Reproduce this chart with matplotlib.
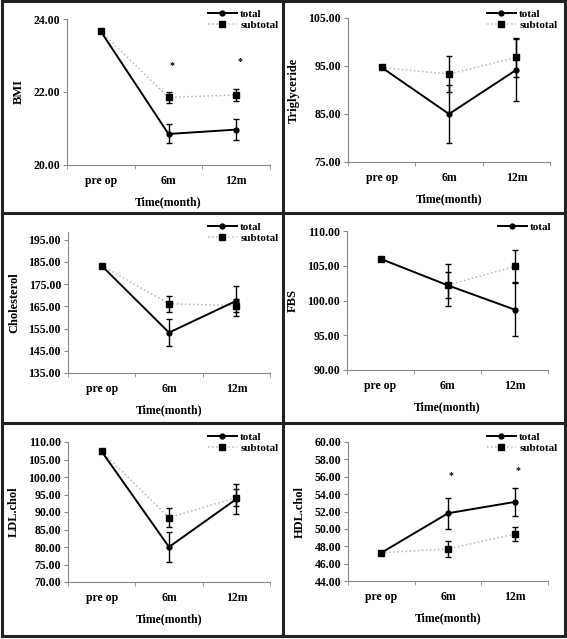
# six panel chart: metabolic measures pre op, 6m, 12m

import matplotlib.pyplot as plt
from matplotlib.lines import Line2D

plt.rcParams['font.family'] = ['Liberation Serif', 'DejaVu Serif']
plt.rcParams['font.weight'] = 'bold'
plt.rcParams['axes.labelweight'] = 'bold'

times = ['pre op', '6m', '12m']

bmi_total = [23.66, 20.85, 20.97]
bmi_total_err = [0, 0.26, 0.29]
bmi_sub = [23.66, 21.85, 21.92]
bmi_sub_err = [0, 0.15, 0.17]
bmi_star = [22.72, 22.84]

tg_total = [94.7, 85.0, 94.2]
tg_total_err = [0, 6.0, 6.4]
tg_sub = [94.7, 93.3, 96.8]
tg_sub_err = [0, 3.8, 4.0]

chol_total = [183.3, 153.2, 167.5]
chol_total_err = [0, 6.0, 6.9]
chol_sub = [183.3, 166.2, 165.3]
chol_sub_err = [0, 3.6, 2.9]

fbs_total = [106.0, 102.2, 98.7]
fbs_total_err = [0, 3.0, 3.8]
fbs_sub = [106.0, 102.2, 104.9]
fbs_sub_err = [0, 1.85, 2.3]

ldl_total = [107.3, 80.0, 93.7]
ldl_total_err = [0, 4.2, 4.3]
ldl_sub = [107.3, 88.4, 94.1]
ldl_sub_err = [0, 2.8, 2.4]

hdl_total = [47.25, 51.8, 53.1]
hdl_total_err = [0, 1.8, 1.65]
hdl_sub = [47.25, 47.7, 49.4]
hdl_sub_err = [0, 0.95, 0.85]
hdl_star = [56.1, 56.75]

W, H = 567, 639
fig = plt.figure(figsize=(W / 100, H / 100), dpi=100)

def box(l, t, r, b):
    return [l / W, 1 - b / H, (r - l) / W, (b - t) / H]

def panel(rect, name, total, terr, sub, serr, ylim, yticks,
          star=None, legend_xy=None, sub_legend=True):
    ax = fig.add_axes(box(*rect))
    x = list(range(len(times)))
    ax.errorbar(x, sub, yerr=serr, color='#b8b8b8', ls=':', lw=1.1,
                marker='s', ms=4, mfc='black', mec='black',
                ecolor='black', elinewidth=1, capsize=2.5,
                label='subtotal' if sub_legend else '_nolegend_', zorder=2)
    ax.errorbar(x, total, yerr=terr, color='black', ls='-', lw=1.4,
                marker='o', ms=3.5, mfc='black', mec='black',
                ecolor='black', elinewidth=1, capsize=2.5,
                label='total', zorder=3)
    if star:
        for i, s in zip([1, 2], star):
            ax.text(i + 0.05, s, '*', ha='center', va='center', fontsize=7)
    ax.set_xlim(-0.5, 2.5)
    ax.set_ylim(*ylim)
    ax.set_yticks(yticks)
    ax.set_yticklabels(['%.2f' % v for v in yticks], fontsize=8.5)
    ax.set_xticks(x)
    ax.set_xticklabels(times, fontsize=8.5)
    ax.set_xticks([-0.5, 0.5, 1.5, 2.5], minor=True)
    ax.tick_params(axis='x', which='major', length=0, pad=7)
    ax.tick_params(axis='x', which='minor', length=3, color='#888888')
    ax.tick_params(axis='y', length=3, color='#888888', pad=2)
    for s in ['top', 'right']:
        ax.spines[s].set_visible(False)
    for s in ['left', 'bottom']:
        ax.spines[s].set_color('#888888')
        ax.spines[s].set_linewidth(0.8)
    ax.set_xlabel('Time(month)', fontsize=8.5, labelpad=7)
    ax.set_ylabel(name, fontsize=9, labelpad=6)
    handles, labels = ax.get_legend_handles_labels()
    order = [labels.index('total')]
    if sub_legend:
        order.append(labels.index('subtotal'))
    lh = []
    for i in order:
        h = handles[i][0]
        lh.append(Line2D([], [], color=h.get_color(), ls=h.get_linestyle(),
                         lw=h.get_linewidth(), marker=h.get_marker(),
                         ms=h.get_markersize(), mfc='black', mec='black'))
    ax.legend(lh, [labels[i] for i in order], loc='upper left',
              bbox_to_anchor=(legend_xy[0] / W, 1 - legend_xy[1] / H),
              bbox_transform=fig.transFigure, frameon=False, fontsize=8,
              handlelength=2.6, labelspacing=0.1, handletextpad=0.3,
              borderpad=0, borderaxespad=0)
    return ax

panel((67, 19, 270, 165), 'BMI', bmi_total, bmi_total_err, bmi_sub, bmi_sub_err,
      (20, 24), [20, 22, 24], star=bmi_star, legend_xy=(208, 9))
panel((348, 18, 550, 162), 'Triglyceride', tg_total, tg_total_err, tg_sub, tg_sub_err,
      (75, 105), [75, 85, 95, 105], legend_xy=(487, 9))
panel((68, 232, 270, 373), 'Cholesterol', chol_total, chol_total_err, chol_sub, chol_sub_err,
      (135, 198.5), [135, 145, 155, 165, 175, 185, 195], legend_xy=(208, 222))
panel((347, 231, 548, 370), 'FBS', fbs_total, fbs_total_err, fbs_sub, fbs_sub_err,
      (90, 110), [90, 95, 100, 105, 110], legend_xy=(498, 222), sub_legend=False)
panel((68, 442, 270, 582), 'LDL.chol', ldl_total, ldl_total_err, ldl_sub, ldl_sub_err,
      (70, 110), [70, 75, 80, 85, 90, 95, 100, 105, 110], legend_xy=(208, 432))
panel((348, 442, 548, 581), 'HDL.chol', hdl_total, hdl_total_err, hdl_sub, hdl_sub_err,
      (44, 60), [44, 46, 48, 50, 52, 54, 56, 58, 60], star=hdl_star, legend_xy=(487, 432))

# panel frames
def fline(x0, y0, x1, y1):
    fig.add_artist(Line2D([x0 / W, x1 / W], [1 - y0 / H, 1 - y1 / H],
                          color='#222222', lw=2.2, solid_capstyle='projecting'))

fline(2, 1, 565, 1)
fline(2, 636, 565, 636)
fline(2, 1, 2, 636)
fline(565, 1, 565, 636)
fline(283, 1, 283, 636)
fline(2, 213, 565, 213)
fline(2, 423, 565, 423)

fig.savefig('out.png', dpi=100)
